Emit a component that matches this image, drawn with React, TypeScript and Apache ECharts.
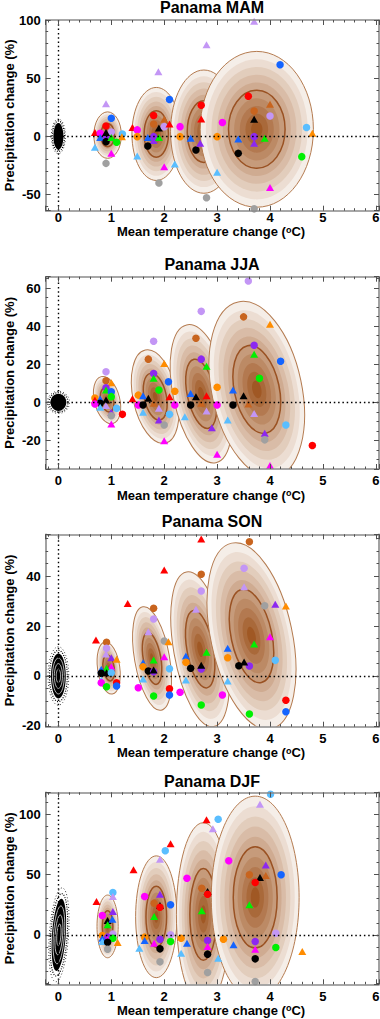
import React, { useEffect, useRef } from "react";
import * as echarts from "echarts";

// ---------- data ----------
const panelTitles = ["Panama MAM", "Panama JJA", "Panama SON", "Panama DJF"];
const xRange = [-0.24, 6.06];
const yRanges = [
  [-64, 100],
  [-35, 66],
  [-20.3, 56.7],
  [-41, 118.2],
];
const yTickSteps = [50, 20, 20, 50];
const yMinorSplits = [5, 4, 4, 5];
const xTickStep = 1;
const xMinorSplit = 5;

// model colour codes: r red, o orange, bn brown, b blue, lb light blue, p purple,
// lv lavender, m magenta, g green, k black, gy grey ; C circle, T triangle
const modelColors: Record<string, string> = {
  r: "#ff0000",
  o: "#ff8c00",
  bn: "#c8641e",
  b: "#1464ff",
  lb: "#5abeff",
  p: "#8c28f0",
  lv: "#c396f5",
  m: "#ff00ff",
  g: "#00f000",
  k: "#000000",
  gy: "#a0a0a0",
};

// ellipses: [centre T, centre P, semi-axis T, semi-axis P, tilt deg]
const ellipsesMAM = [
  [0.93, 1, 0.26, 20, 0],
  [1.85, 2, 0.46, 40, 0],
  [2.75, 4, 0.63, 53, 0],
  [3.75, 6, 1.07, 67, 0],
];
const ellipsesJJA = [
  [0.92, 1.2, 0.24, 12.7, 14],
  [1.83, 3, 0.42, 25, 12],
  [2.7, 4.5, 0.53, 37, 12],
  [3.75, 6.8, 0.85, 47, 12],
];
const ellipsesSON = [
  [0.95, 3.2, 0.21, 10.5, 8],
  [1.77, 7, 0.33, 21, 10],
  [2.68, 10.7, 0.5, 31.4, 10],
  [3.65, 16, 0.77, 38, 12],
];
const ellipsesDJF = [
  [0.93, 7, 0.2, 26, 0],
  [1.85, 15, 0.39, 50.5, 0],
  [2.74, 17, 0.51, 76, 0],
  [3.72, 31, 0.83, 84, 0],
];

// natural variability cloud: [T, P, semi T, semi P, tilt, inner rings]
const cloudMAM = [0, 0, 0.095, 11.5, 0, 0];
const cloudJJA = [0, 0, 0.15, 4.5, 0, 0];
const cloudSON = [0, 0, 0.14, 9, 0, 1];
const cloudDJF = [0.01, 0, 0.13, 30, -4, 1];

const pointsMAM: [number, number, string][] = [
  [0.9, 27.9, "lvT"], [1.0, 15.5, "bC"], [0.9, 8.9, "rC"], [0.69, 3.2, "rT"], [0.79, 2.6, "mC"],
  [1.0, 3.7, "lvC"], [1.21, 2, "lbC"], [1.2, -0.3, "oT"], [0.79, -1.1, "bT"], [0.9, -2, "pT"],
  [0.9, -0.3, "pC"], [0.9, 3.2, "kT"], [0.9, -4.6, "kC"], [1.0, -1.1, "gT"], [1.1, -5.2, "gC"],
  [0.69, -9.5, "lbT"], [1.0, -14.7, "mT"], [0.9, -23.3, "gyC"],
  [1.89, 55.5, "lvT"], [2.1, 31.6, "bC"], [1.8, 17.8, "rC"], [1.8, 10.6, "bnC"], [2.0, 14.7, "bnT"],
  [1.9, 7.2, "kT"], [2.0, 8.3, "lvC"], [1.4, 7.5, "rT"], [2.1, 10.6, "rT"], [1.49, 5.5, "mC"],
  [1.49, -0.3, "oC"], [2.3, 8.3, "mC"], [2.3, -0.3, "oC"], [1.69, -1.1, "bT"], [1.8, -0.3, "pC"],
  [1.8, -3.7, "pT"], [1.9, -1.1, "gT"], [1.69, -8.3, "kC"], [1.49, -17, "lbT"], [2.0, -26.1, "mT"],
  [2.2, -23.9, "lbT"], [1.9, -40.2, "gyC"],
  [2.8, 78.7, "lvT"], [2.7, 26.7, "rC"], [2.7, 14.9, "rT"], [3.1, 11.8, "mC"], [3.0, -0.3, "oC"],
  [2.5, -1.7, "bT"], [2.6, -11.8, "kC"], [2.68, -6, "pT"], [3.0, -31, "lbT"], [2.8, -52.9, "gyC"],
  [3.7, 98.9, "lvT"], [4.19, 61.5, "bC"], [3.59, 34.5, "rC"], [3.7, 21.8, "bnC"], [4.0, 27.6, "bnT"],
  [3.7, 14.7, "kT"], [4.0, 17.5, "lvC"], [4.69, 7.5, "lbC"], [4.8, 2.6, "oT"], [3.4, -2.3, "bT"],
  [3.7, -0.3, "pC"], [3.7, -6, "pT"], [3.9, -1.7, "gT"], [3.4, -14.7, "kC"], [4.6, -17.5, "gC"],
  [4.0, -44, "mT"], [3.7, -62.4, "gyC"],
];

const pointsJJA: [number, number, string][] = [
  [0.9, 16.1, "lvC"], [0.9, 11.3, "bnC"], [1.0, 10.3, "oT"], [0.9, 7.7, "pC"], [0.9, 6.5, "gT"],
  [1.0, 5.6, "bC"], [1.0, 3, "gC"], [0.69, 2.3, "oC"], [0.69, 1.2, "rT"], [0.79, 1.7, "bT"],
  [0.9, 1.2, "kT"], [0.79, -0.5, "kC"], [0.69, -0.9, "mC"], [0.9, -1.7, "lvT"], [0.79, -2.6, "lbT"],
  [1.1, -3.1, "lbC"], [1.0, -5.2, "pT"], [1.0, -7, "gyC"], [1.21, -6.3, "rC"], [1.0, -11.3, "mT"],
  [1.8, 32.1, "lvC"], [1.7, 22.7, "bnC"], [2.0, 20.4, "oT"], [1.8, 15.2, "pC"], [1.8, 12.6, "gT"],
  [1.9, 6.5, "gC"], [2.08, 10.8, "bC"], [1.51, 3.8, "oC"], [1.6, 3.5, "bT"], [1.7, 2.1, "kT"],
  [1.4, 1.9, "rT"], [2.1, 3, "rT"], [1.51, -1.4, "mC"], [1.6, -1.4, "kC"], [1.8, -0.5, "bnT"],
  [1.9, -3.1, "lvT"], [1.6, -5.2, "lbT"], [2.1, -6.3, "lbC"], [1.9, -9.2, "pT"], [2.0, -11.9, "gyC"],
  [2.2, -1.4, "mC"], [2.2, 5.8, "oC"], [2.0, -20.1, "mT"],
  [2.7, 47.8, "lvC"], [2.6, 33.7, "bnC"], [2.7, 22.7, "pC"], [2.8, 19, "gT"], [3.0, 7.9, "oC"],
  [2.5, 4.7, "bT"], [2.6, 3, "kT"], [2.8, 3.5, "rT"], [3.0, -1.4, "mC"], [2.5, -1.4, "kC"],
  [2.7, -0.5, "bnT"], [2.8, -4.5, "lvT"], [2.39, -7.5, "lbT"], [2.9, -13.3, "pT"], [3.0, -27.2, "mT"],
  [3.59, 63.7, "lvC"], [3.5, 44.9, "bnC"], [4.0, 41, "oT"], [3.7, 30, "pC"], [3.7, 25.3, "gT"],
  [4.2, 21.6, "bC"], [3.8, 12.6, "gC"], [3.3, 6.5, "bT"], [3.5, 3.5, "kT"], [3.3, -1.4, "kC"],
  [3.59, -0.9, "bnT"], [3.7, -5.8, "lvT"], [3.2, -9.2, "lbT"], [4.3, -11.9, "lbC"], [3.9, -16.2, "pT"],
  [3.9, -19.7, "gyC"], [4.8, -22.7, "rC"], [4.0, -33.2, "mT"],
];

const pointsSON: [number, number, string][] = [
  [0.71, 14.4, "rT"], [0.91, 13.5, "bnC"], [0.91, 11.1, "lvC"], [0.9, 8.8, "lvT"], [1.0, 7.3, "pT"],
  [1.1, 6.7, "oT"], [1.0, 3.7, "mT"], [0.91, 3.1, "gT"], [0.81, 2.7, "bT"], [0.91, 1.3, "kT"],
  [0.81, 1.1, "kC"], [1.0, 1.3, "lbC"], [0.81, -1.6, "lbT"], [0.81, -2.7, "mC"], [1.1, -2.7, "rC"],
  [1.1, -4, "bC"], [0.91, -4.3, "gC"], [1.31, 29, "rT"],
  [2.0, 42.4, "rT"], [1.8, 27.1, "bnC"], [1.8, 22.8, "lvC"], [1.7, 17.7, "lvT"], [2.0, 14, "gyC"],
  [2.08, 13.7, "oT"], [2.0, 7.7, "mT"], [1.8, 6.4, "gT"], [1.6, 5.3, "bT"], [1.6, 3.7, "oC"],
  [2.1, 2.9, "lbC"], [1.7, 2, "kC"], [1.8, 1.7, "pC"], [1.8, 2.4, "kT"], [1.6, -1.2, "lbT"],
  [1.51, -4.7, "mC"], [2.1, -5.1, "rC"], [2.1, -7.6, "bC"], [1.8, -8, "gC"],
  [2.7, 54.8, "rT"], [2.7, 40.7, "bnC"], [2.7, 34, "lvC"], [2.6, 26.7, "lvT"], [2.8, 9.5, "gT"],
  [2.41, 8, "bT"], [2.41, 5.5, "oC"], [2.5, 3.1, "kC"], [2.7, 2.8, "pC"], [2.7, 4.3, "kT"],
  [2.41, -1.6, "lbT"], [2.3, -6.5, "mC"], [3.1, -7.6, "mC"], [2.7, -11.6, "gC"],
  [3.61, 53.7, "bnC"], [3.51, 43.1, "lvC"], [3.51, 35.7, "lvT"], [3.9, 28.1, "gyC"], [4.1, 28.7, "pT"],
  [4.3, 28, "oT"], [4.0, 15.7, "mT"], [3.7, 12.8, "gT"], [3.2, 11.1, "bT"], [3.2, 7.3, "oC"],
  [3.41, 4.1, "kC"], [3.61, 4, "pC"], [3.51, 5.6, "kT"], [4.1, 6.3, "lbC"], [3.2, -2, "lbT"],
  [4.3, -9.7, "rC"], [4.3, -14.3, "bC"], [3.61, -15.2, "gC"],
];

const pointsDJF: [number, number, string][] = [
  [0.72, 27.6, "rT"], [1.03, 35.1, "lbC"], [1.03, 31.8, "lvT"], [1.03, 19.3, "pT"], [0.83, 16, "mC"],
  [0.93, 11.9, "kT"], [1.02, 13, "bT"], [0.93, 8.3, "gT"], [0.83, -0.6, "oC"], [1.03, 0.6, "lvC"],
  [0.93, -1.9, "pC"], [1.03, -2.8, "gC"], [0.93, -3.6, "mT"], [0.83, -2.8, "bT"], [0.83, -5.5, "lbT"],
  [0.93, -6.1, "kC"], [1.12, -6.4, "oT"], [0.93, -11.9, "gyC"],
  [1.42, 53.9, "rT"], [2.12, 75.5, "rT"], [2.02, 69.7, "lbC"], [1.92, 62.7, "lvT"], [1.63, 31.8, "mC"],
  [1.92, 33.7, "pT"], [1.81, 26.3, "bnC"], [1.92, 24.3, "kT"], [1.92, 22.9, "rC"], [2.12, 24.9, "bC"],
  [1.81, 15.2, "gT"], [1.63, -1.9, "oC"], [2.12, 0, "lvC"], [1.92, -3.6, "pC"], [2.12, -5.5, "gC"],
  [1.81, -6.9, "mT"], [1.63, -4.7, "bT"], [1.53, -11.1, "lbT"], [1.92, -11.6, "kC"], [1.92, -22.4, "gyC"],
  [2.8, 95.4, "rT"], [3.02, 95.9, "lbC"], [2.92, 87.9, "lvT"], [2.32, -2.8, "oC"], [2.43, 47, "mC"],
  [2.71, 38.7, "bnC"], [2.82, 35.9, "kT"], [2.82, 33.7, "rC"], [2.71, 19.9, "gT"], [2.82, -4.7, "pC"],
  [2.82, -9.7, "mT"], [2.43, -6.9, "bT"], [2.32, -15.2, "lbT"], [2.82, -16, "kC"], [2.82, -31.2, "gyC"],
  [3.02, -19.3, "lbT"], [3.12, -3.6, "oC"],
  [4.01, 116.6, "lbC"], [3.81, 108.3, "lvT"], [3.22, 61.4, "mC"], [3.92, 58, "pT"], [4.21, 49.8, "bC"],
  [3.61, 49.8, "bnC"], [3.92, 49.2, "bnT"], [3.81, 47.5, "kT"], [3.72, 43.4, "rC"], [3.61, 24.9, "gT"],
  [4.11, 1.4, "lvC"], [3.72, -5.5, "pC"], [3.31, -8.3, "bT"], [4.11, -10.5, "gC"], [3.72, -11.9, "mT"],
  [3.72, -19.9, "kC"], [4.61, -13.8, "oT"], [3.72, -38.7, "gyC"],
];

const allEllipses = [ellipsesMAM, ellipsesJJA, ellipsesSON, ellipsesDJF];
const allClouds = [cloudMAM, cloudJJA, cloudSON, cloudDJF];
const allPoints = [pointsMAM, pointsJJA, pointsSON, pointsDJF];

// ---------- layout / style ----------
const FONT = '"Liberation Sans", Arial, Helvetica, sans-serif';
const gridLeft = 45.7;
const gridWidth = 333.3;
const gridTops = [20, 276.7, 534.3, 792.3];
const gridHeights = [190.7, 192.3, 192.4, 192];
const titleYs = [7.5, 264, 521.5, 781];
const xNameYs = [231.5, 495, 752.5, 1010];
const xLabelMargins = [0, 5, 5, 6];
const frameColor = "#8a8a8a";
const tickColor = "#505050";

const N_BANDS = 10;
const bandLight = [245, 238, 232];
const bandDark = [160, 88, 36];
const bandColors = Array.from({ length: N_BANDS }, (_, k) => {
  const t = k / (N_BANDS - 1);
  const c = bandLight.map((l, j) => Math.round(l + (bandDark[j] - l) * t));
  return `rgb(${c[0]},${c[1]},${c[2]})`;
});

function renderEllipse(params: any, api: any) {
  const c = api.coord([api.value(0), api.value(1)]);
  const s = api.size([api.value(2), api.value(3)]);
  const rot = (api.value(4) * Math.PI) / 180;
  const children: any[] = [];
  for (let k = 0; k < N_BANDS; k++) {
    const f = 1 - k / N_BANDS;
    children.push({
      type: "ellipse",
      shape: { cx: 0, cy: 0, rx: s[0] * f, ry: s[1] * f },
      style: { fill: bandColors[k] },
    });
  }
  children.push({
    type: "ellipse",
    shape: { cx: 0, cy: 0, rx: s[0] * 0.5, ry: s[1] * 0.5 },
    style: { fill: "none", stroke: "#9a5223", lineWidth: 1.5 },
  });
  children.push({
    type: "ellipse",
    shape: { cx: 0, cy: 0, rx: s[0], ry: s[1] },
    style: { fill: "none", stroke: "#b47b50", lineWidth: 1 },
  });
  return { type: "group", x: c[0], y: c[1], rotation: rot, children };
}

function renderCloud(params: any, api: any) {
  const c = api.coord([api.value(0), api.value(1)]);
  const s = api.size([api.value(2), api.value(3)]);
  const rot = (api.value(4) * Math.PI) / 180;
  const rings = api.value(5);
  const children: any[] = [
    {
      type: "ellipse",
      shape: { cx: 0, cy: 0, rx: s[0] * 1.4, ry: s[1] * 1.3 },
      style: { fill: "none", stroke: "#000", lineWidth: 0.9, lineDash: [0.8, 2.4] },
    },
    {
      type: "ellipse",
      shape: { cx: 0, cy: 0, rx: s[0] * 1.2, ry: s[1] * 1.14 },
      style: { fill: "none", stroke: "#000", lineWidth: 1.2, lineDash: [1, 1.4] },
    },
    {
      type: "ellipse",
      shape: { cx: 0, cy: 0, rx: s[0], ry: s[1] },
      style: { fill: "#000" },
    },
  ];
  if (rings) {
    [0.3, 0.55, 0.8].forEach((f) =>
      children.push({
        type: "ellipse",
        shape: { cx: 0, cy: 0, rx: s[0] * f, ry: s[1] * f },
        style: { fill: "none", stroke: "#fff", lineWidth: 0.7 },
      })
    );
  }
  return { type: "group", x: c[0], y: c[1], rotation: rot, children };
}

function stepFormatter(step: number) {
  return (v: number) => {
    const r = v / step;
    return Math.abs(r - Math.round(r)) < 1e-6 ? String(Math.round(v)) : "";
  };
}

function buildOption() {
  const grid: any[] = [];
  const xAxis: any[] = [];
  const yAxis: any[] = [];
  const series: any[] = [];
  const graphic: any[] = [];

  const common = (minorSplit: number) => ({
    axisLine: { show: true, onZero: false, lineStyle: { color: frameColor, width: 1.6 } },
    axisTick: { show: true, inside: true, length: 5, lineStyle: { color: tickColor, width: 1 } },
    minorTick: { show: true, splitNumber: minorSplit, length: 2.5, lineStyle: { color: tickColor, width: 1 } },
    splitLine: { show: false },
    minorSplitLine: { show: false },
    z: 10,
  });
  const labelStyle = { fontSize: 13, fontWeight: "bold", color: "#000", fontFamily: FONT, lineHeight: 13 };

  for (let i = 0; i < 4; i++) {
    grid.push({
      left: gridLeft,
      top: gridTops[i],
      width: gridWidth,
      height: gridHeights[i],
      containLabel: false,
      outerBoundsMode: "none",
    });
    const [ymin, ymax] = yRanges[i];
    const ys = yTickSteps[i];
    xAxis.push({
      type: "value", gridIndex: i, position: "bottom", min: xRange[0], max: xRange[1],
      minInterval: xTickStep, maxInterval: xTickStep, ...common(xMinorSplit),
      axisLabel: { show: true, margin: xLabelMargins[i], formatter: stepFormatter(xTickStep), ...labelStyle },
    });
    xAxis.push({
      type: "value", gridIndex: i, position: "top", min: xRange[0], max: xRange[1],
      minInterval: xTickStep, maxInterval: xTickStep, ...common(xMinorSplit),
      axisLabel: { show: false },
    });
    yAxis.push({
      type: "value", gridIndex: i, position: "left", min: ymin, max: ymax,
      minInterval: ys, maxInterval: ys, ...common(yMinorSplits[i]),
      axisLabel: { show: true, margin: 5, formatter: stepFormatter(ys), ...labelStyle },
    });
    yAxis.push({
      type: "value", gridIndex: i, position: "right", min: ymin, max: ymax,
      minInterval: ys, maxInterval: ys, ...common(yMinorSplits[i]),
      axisLabel: { show: false },
    });

    const ax = { xAxisIndex: 2 * i, yAxisIndex: 2 * i };
    series.push({
      type: "line", ...ax, data: [], z: 1, silent: true,
      markLine: {
        silent: true, symbol: ["none", "none"], label: { show: false },
        lineStyle: { color: "#000", type: [1.5, 2.8], width: 1.4 },
        emphasis: { disabled: true },
        data: [{ xAxis: 0 }, { yAxis: 0 }],
      },
    });
    series.push({
      type: "custom", ...ax, z: 2, silent: true, clip: true,
      renderItem: renderEllipse, data: allEllipses[i],
    });
    series.push({
      type: "custom", ...ax, z: 3, silent: true, clip: true,
      renderItem: renderCloud, data: [allClouds[i]],
    });
    series.push({
      type: "scatter", ...ax, z: 4, silent: true,
      data: allPoints[i].map(([x, y, key]) => {
        const shape = key.slice(-1);
        const col = modelColors[key.slice(0, -1)];
        return {
          value: [x, y],
          symbol: shape === "C" ? "circle" : "triangle",
          symbolSize: shape === "C" ? 7.5 : [8, 7],
          itemStyle: { color: col, opacity: 1 },
        };
      }),
    });

    graphic.push({
      type: "text", x: 212, y: titleYs[i], silent: true,
      style: {
        text: panelTitles[i], font: `bold 16px ${FONT}`, fill: "#000",
        align: "center", verticalAlign: "middle", textAlign: "center", textVerticalAlign: "middle",
      },
    });
    graphic.push({
      type: "text", x: 9.5, y: gridTops[i] + gridHeights[i] / 2, rotation: Math.PI / 2, silent: true,
      style: {
        text: "Precipitation change (%)", font: `bold 13px ${FONT}`, fill: "#000",
        align: "center", verticalAlign: "middle", textAlign: "center", textVerticalAlign: "middle",
      },
    });
    graphic.push({
      type: "text", x: 211, y: xNameYs[i], silent: true,
      style: {
        text: "{a|Mean temperature change (}{s|o}{a|C)}",
        align: "center", verticalAlign: "middle", textAlign: "center", textVerticalAlign: "middle",
        rich: {
          a: { fontSize: 13, fontWeight: "bold", fontFamily: FONT, fill: "#000", color: "#000", lineHeight: 13 },
          s: { fontSize: 9, fontWeight: "bold", fontFamily: FONT, fill: "#000", color: "#000", lineHeight: 13, verticalAlign: "top" },
        },
      },
    });
  }
  return { animation: false, backgroundColor: "#fff", grid, xAxis, yAxis, series, graphic };
}

export default function App() {
  const ref = useRef<HTMLDivElement>(null);
  useEffect(() => {
    if (!ref.current) return;
    const chart = echarts.init(ref.current, undefined, { renderer: "svg" });
    chart.setOption(buildOption() as any);
    return () => chart.dispose();
  }, []);
  return (
    <div
      ref={ref}
      style={{ position: "absolute", left: 0, top: 0, width: 380, height: 1019, background: "#fff" }}
    />
  );
}
